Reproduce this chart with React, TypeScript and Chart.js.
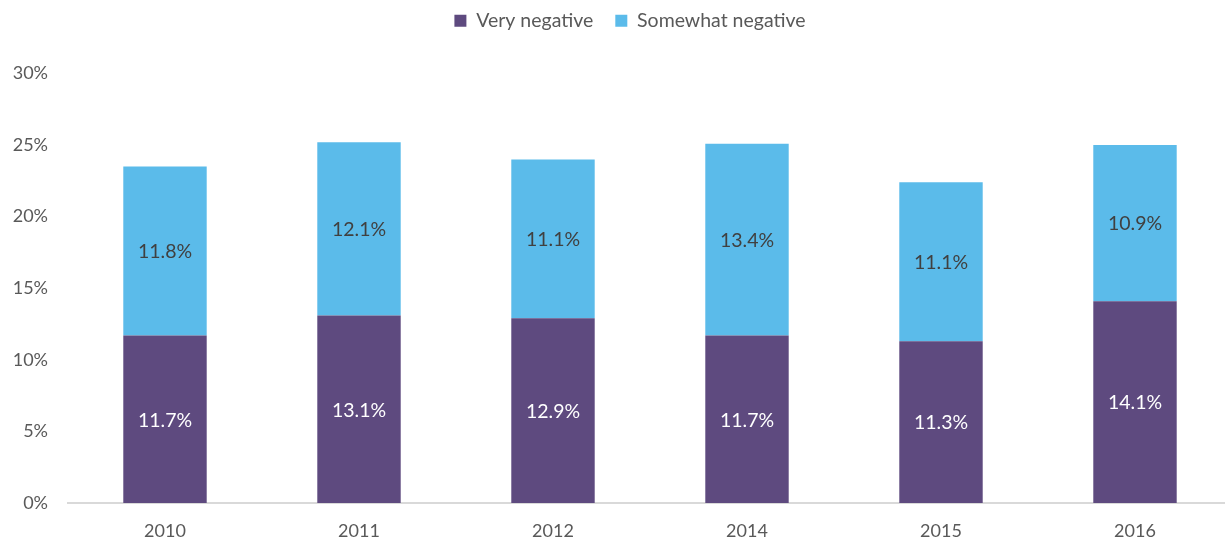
import React, { useEffect, useRef } from "react";
import { Chart, registerables } from "chart.js";

Chart.register(...registerables);

const categories = ["2010", "2011", "2012", "2014", "2015", "2016"];
const veryNegative = [11.7, 13.1, 12.9, 11.7, 11.3, 14.1];
const somewhatNegative = [11.8, 12.1, 11.1, 13.4, 11.1, 10.9];
const yTicks = [0, 5, 10, 15, 20, 25, 30];

const FONT = "Lato, 'Open Sans', sans-serif";

const labelPlugin = {
  id: "segLabels",
  afterDatasetsDraw(chart: any) {
    const ctx = chart.ctx;
    ctx.save();
    ctx.font = `19.5px ${FONT}`;
    ctx.textAlign = "center";
    ctx.textBaseline = "middle";
    chart.data.datasets.forEach((ds: any, di: number) => {
      const meta = chart.getDatasetMeta(di);
      meta.data.forEach((bar: any, i: number) => {
        const { x, y, base } = bar.getProps(["x", "y", "base"], true);
        ctx.fillStyle = di === 0 ? "#ffffff" : "#404040";
        ctx.fillText(ds.data[i].toFixed(1) + "%", x, (y + base) / 2 + 1);
      });
    });
    ctx.restore();
  },
};

const legendSpacer = {
  id: "legendSpacer",
  beforeInit(chart: any) {
    const legend = chart.legend;
    if (!legend) return;
    const origFit = legend.fit;
    legend.fit = function () {
      origFit.call(this);
      this.height += 22;
    };
    const origDraw = legend.draw;
    legend.draw = function () {
      const ctx = this.ctx;
      ctx.save();
      ctx.translate(14, -11);
      origDraw.call(this);
      ctx.restore();
    };
  },
};

export default function App() {
  const ref = useRef<HTMLCanvasElement>(null);
  useEffect(() => {
    if (!ref.current) return;
    const chart = new Chart(ref.current, {
      type: "bar",
      data: {
        labels: categories,
        datasets: [
          {
            label: "Very negative",
            data: veryNegative,
            backgroundColor: "#5E4A7F",
            borderWidth: 0,
            barPercentage: 0.43,
            categoryPercentage: 1,
          },
          {
            label: "Somewhat negative",
            data: somewhatNegative,
            backgroundColor: "#5BBBEA",
            borderWidth: 0,
            barPercentage: 0.43,
            categoryPercentage: 1,
          },
        ],
      },
      options: {
        animation: false,
        responsive: false,
        maintainAspectRatio: false,
        layout: { padding: { top: 0, right: 8, left: 0, bottom: 0 } },
        plugins: {
          tooltip: { enabled: false },
          legend: {
            position: "top",
            labels: {
              boxWidth: 12,
              boxHeight: 12,
              padding: 22,
              color: "#595959",
              font: { family: FONT, size: 19.5 },
            },
          },
        },
        scales: {
          x: {
            stacked: true,
            grid: { display: false, drawTicks: false },
            border: { display: true, color: "#D9D9D9", width: 2 },
            ticks: {
              color: "#595959",
              font: { family: FONT, size: 18 },
              padding: 17,
            },
            afterFit: (a: any) => {
              a.height = 39;
            },
          },
          y: {
            stacked: true,
            min: 0,
            max: 30,
            grid: { display: false, drawTicks: false },
            border: { display: false },
            afterBuildTicks: (a: any) => {
              a.ticks = yTicks.map((v) => ({ value: v }));
            },
            ticks: {
              color: "#595959",
              font: { family: FONT, size: 18 },
              padding: 20,
              callback: (v: any) => v + "%",
            },
            afterFit: (a: any) => {
              a.width = 68;
            },
          },
        },
      },
      plugins: [legendSpacer, labelPlugin],
    });
    return () => chart.destroy();
  }, []);
  return (
    <div
      style={{
        position: "fixed",
        left: 0,
        top: 0,
        width: 1225,
        height: 542,
        overflow: "hidden",
        background: "#ffffff",
      }}
    >
      <canvas ref={ref} width={1240} height={542} style={{ display: "block", width: 1240, height: 542 }} />
    </div>
  );
}
